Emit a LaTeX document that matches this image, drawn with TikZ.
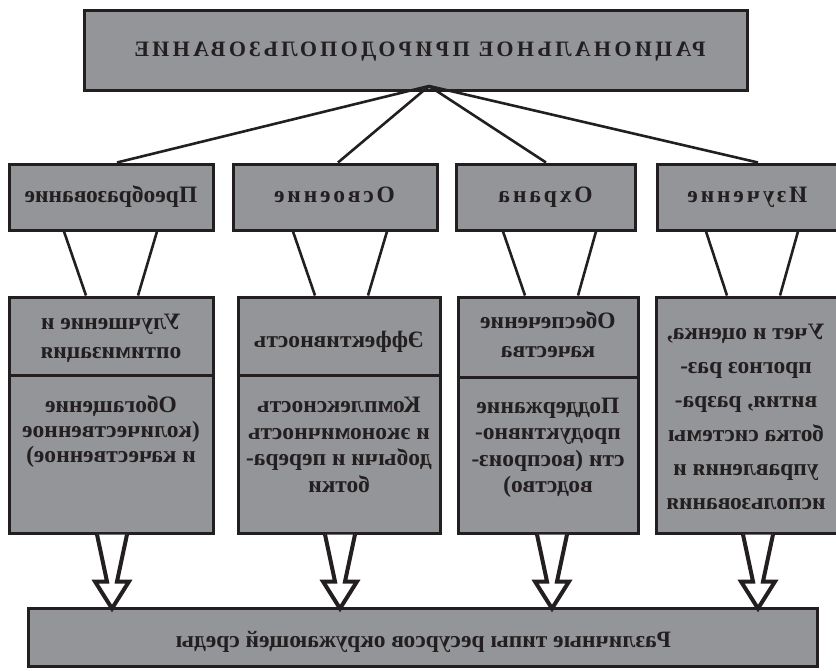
\documentclass[tikz,border=0pt]{standalone}
\usepackage{fontspec}
\setmainfont{Liberation Serif}
\usepackage{graphicx}
\usetikzlibrary{calc}
\definecolor{boxgray}{RGB}{147,149,152}
\definecolor{ink}{RGB}{35,31,32}
\newcommand{\mirtext}[2][1]{\reflectbox{\renewcommand{\arraystretch}{#1}\begin{tabular}{@{}c@{}}#2\end{tabular}}}
\begin{document}
\begin{tikzpicture}[x=1pt,y=-1pt,
  boxnode/.style={draw=ink, line width=3pt, fill=boxgray, inner sep=0pt},
  body/.style={font=\fontsize{23.5}{25}\selectfont\bfseries, text=ink, inner sep=0pt},
  conn/.style={draw=ink, line width=2.6pt},
  divider/.style={draw=ink, line width=3pt},
  hollow/.style={draw=ink, line width=4pt, fill=white, line join=miter}]
\useasboundingbox (0,0) rectangle (836,670);

% boxes
\node[boxnode, minimum width=663pt, minimum height=80pt] (top) at (415.5,50) {};
\node[boxnode, minimum width=204pt, minimum height=66pt] (b1) at (111,197) {};
\node[boxnode, minimum width=204pt, minimum height=66pt] (b2) at (335,197) {};
\node[boxnode, minimum width=179pt, minimum height=66pt] (b3) at (545.5,197) {};
\node[boxnode, minimum width=183pt, minimum height=66pt] (b4) at (748.5,197) {};
\node[boxnode, minimum width=204pt, minimum height=236pt] (c1) at (111,415) {};
\node[boxnode, minimum width=202pt, minimum height=236pt] (c2) at (339,415) {};
\node[boxnode, minimum width=180pt, minimum height=236pt] (c3) at (548,415) {};
\node[boxnode, minimum width=184pt, minimum height=236pt] (c4) at (748,415) {};
\node[boxnode, minimum width=789pt, minimum height=58pt] (d) at (422.5,637) {};

% dividers
\draw[divider] ([yshift=-80pt]c1.north west) -- ([yshift=-80pt]c1.north east);
\draw[divider] ([yshift=-80pt]c2.north west) -- ([yshift=-80pt]c2.north east);
\draw[divider] ([yshift=-82pt]c3.north west) -- ([yshift=-82pt]c3.north east);

% connectors from the title
\coordinate (hub) at (429,86);
\draw[conn] (hub) -- ([xshift=6pt]b1.north);
\draw[conn] (hub) -- ([xshift=3pt]b2.north);
\draw[conn] (hub) -- ([xshift=0.5pt]b3.north);
\draw[conn] (hub) -- ([xshift=9.5pt]b4.north);

% connectors between rows
\draw[conn] ([xshift=-47pt]b1.south) -- ([xshift=-25pt]c1.north);
\draw[conn] ([xshift=46pt]b1.south) -- ([xshift=27pt]c1.north);
\draw[conn] ([xshift=-42pt]b2.south) -- ([xshift=-24pt]c2.north);
\draw[conn] ([xshift=52pt]b2.south) -- ([xshift=29pt]c2.north);
\draw[conn] ([xshift=-42.5pt]b3.south) -- ([xshift=-23pt]c3.north);
\draw[conn] ([xshift=50.5pt]b3.south) -- ([xshift=30pt]c3.north);
\draw[conn] ([xshift=-42.5pt]b4.south) -- ([xshift=-21pt]c4.north);
\draw[conn] ([xshift=49.5pt]b4.south) -- ([xshift=32pt]c4.north);

% hollow arrows
\foreach \n/\o in {c1/1, c2/1, c3/4, c4/10}{
  \draw[hollow] ([xshift=\o pt-15pt]\n.south) -- ++(10,47) -- ++(-12,0) -- ++(17,27)
     -- ++(17,-27) -- ++(-12,0) -- ++(10,-47);
}

% texts (mirrored as in the reference)
\node[body, font=\fontsize{22}{25}\selectfont\bfseries] (ttop) at (420,51) {\mirtext{\addfontfeatures{LetterSpace=15}РАЦИОНАЛЬНОЕ ПРИРОДОПОЛЬЗОВАНИЕ}};
\node[body] (t1) at (111,197) {\mirtext{Преобразование}};
\node[body] (t2) at (334.5,197) {\mirtext{\addfontfeatures{LetterSpace=12}Освоение}};
\node[body] (t3) at (545.5,197) {\mirtext{\addfontfeatures{LetterSpace=12}Охрана}};
\node[body] (t4) at (747.5,197) {\mirtext{\addfontfeatures{LetterSpace=12}Изучение}};

\node[body] (u1) at (111,338) {\mirtext[1.16]{Улучшение и\\оптимизация}};
\node[body] (l1) at (111,432) {\mirtext{Обогащение\\(количественное\\и качественное)}};
\node[body] (u2) at (339,342) {\mirtext{Эффективность}};
\node[body] (l2) at (339,447) {\mirtext[1.06]{Комплексность\\и экономичность\\добычи и перера-\\ботки}};
\node[body] (u3) at (548,337.5) {\mirtext[1.16]{Обеспечение\\качества}};
\node[body] (l3) at (548,447.5) {\mirtext[1.06]{Поддержание\\продуктивно-\\сти (воспроиз-\\водство)}};
\node[body] (l4) at (746,418) {\mirtext[1.36]{Учет и оценка,\\прогноз раз-\\вития, разра-\\ботка системы\\управления и\\использования}};
\node[body] (tb) at (423.5,642) {\mirtext{Различные типы ресурсов окружающей среды}};
\end{tikzpicture}
\end{document}
